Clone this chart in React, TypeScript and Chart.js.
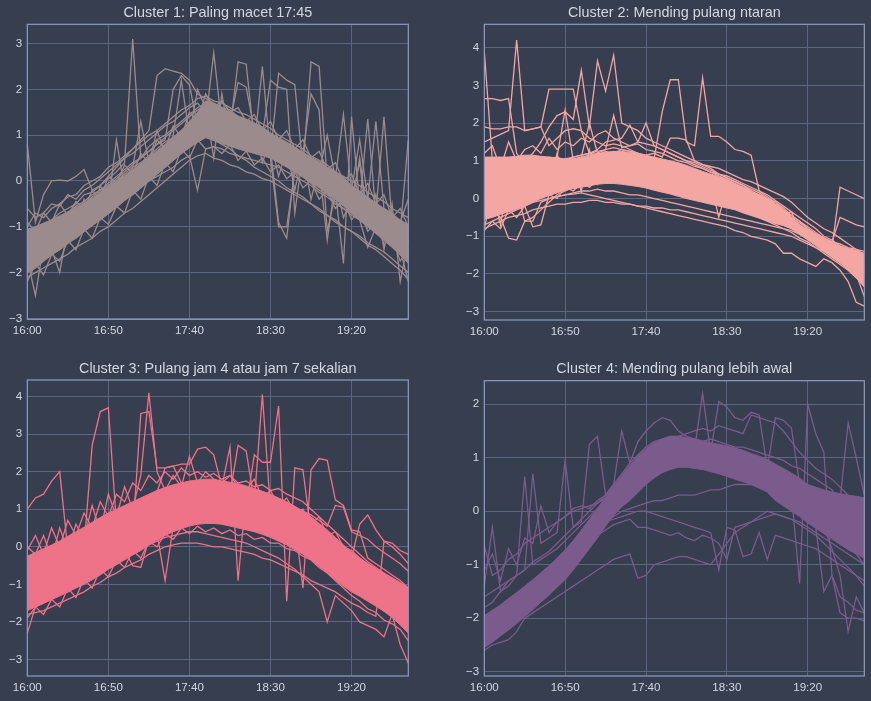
import React, { useEffect, useRef } from 'react';
import { Chart, registerables } from 'chart.js';

Chart.register(...registerables);

// x categories: every 5 minutes, 16:00 - 19:55
const times = [
  '16:00', '16:05', '16:10', '16:15', '16:20', '16:25', '16:30', '16:35', '16:40', '16:45', '16:50', '16:55',
  '17:00', '17:05', '17:10', '17:15', '17:20', '17:25', '17:30', '17:35', '17:40', '17:45', '17:50', '17:55',
  '18:00', '18:05', '18:10', '18:15', '18:20', '18:25', '18:30', '18:35', '18:40', '18:45', '18:50', '18:55',
  '19:00', '19:05', '19:10', '19:15', '19:20', '19:25', '19:30', '19:35', '19:40', '19:45', '19:50', '19:55',
];
const xTickLabels = ['16:00', '16:50', '17:40', '18:30', '19:20'];

// ---- Cluster 1 ----
const c1Ticks = [-3, -2, -1, 0, 1, 2, 3];
const c1High = [
  -1.05, -1.0, -0.92, -0.85, -0.76, -0.67, -0.58, -0.49, -0.38, -0.25, -0.12, 0.0,
  0.12, 0.25, 0.38, 0.52, 0.66, 0.8, 0.95, 1.1, 1.3, 1.5, 1.75, 1.7,
  1.6, 1.5, 1.42, 1.35, 1.27, 1.18, 1.05, 0.95, 0.85, 0.74, 0.63, 0.52,
  0.42, 0.3, 0.2, 0.08, -0.1, -0.22, -0.35, -0.48, -0.6, -0.72, -0.85, -0.95,
];
const c1Low = [
  -2.0, -1.88, -1.75, -1.62, -1.5, -1.37, -1.24, -1.11, -0.98, -0.85, -0.72, -0.58,
  -0.43, -0.3, -0.15, 0.0, 0.15, 0.3, 0.45, 0.6, 0.72, 0.85, 0.95, 0.88,
  0.82, 0.76, 0.7, 0.65, 0.6, 0.55, 0.5, 0.4, 0.3, 0.2, 0.08, -0.03,
  -0.15, -0.28, -0.4, -0.55, -0.7, -0.85, -1.0, -1.15, -1.3, -1.45, -1.62, -1.8,
];
const c1A = [
  -1.2, -1.0, -0.95, -0.85, -0.7, -0.6, -0.5, -0.3, -0.25, -0.1, 0.05, 0.2,
  0.4, 3.1, 0.5, 0.75, 0.9, 1.0, 1.15, 1.3, 1.45, 1.6, 1.7, 1.65,
  1.5, 1.4, 1.3, 1.25, 1.1, 1.0, 0.9, 0.8, 0.7, 0.55, 0.45, 0.3,
  0.2, 0.1, -0.05, -0.15, -0.3, -0.4, -0.5, -0.65, -0.75, -0.85, -1.0, -1.1,
];
const c1B = [
  0.8, -0.9, -0.3, 0.0, 0.02, 0.0, 0.1, 0.25, -0.2, -0.1, 0.1, 0.3,
  0.5, 0.7, 0.9, 1.1, 2.3, 2.45, 2.4, 2.35, 2.2, 1.9, 1.8, 1.7,
  1.6, 1.55, 1.4, 1.3, 1.2, 1.1, 1.0, 0.85, 0.7, 0.6, 0.5, 0.35,
  0.2, 0.1, 0.0, -0.1, -0.2, -0.3, -0.45, -0.55, -0.7, -0.8, -0.9, -1.05,
];
const c1C = [
  -2.1, -2.0, -1.9, -1.8, -1.7, -1.6, -1.45, -1.35, -1.25, -1.1, -1.0, -0.85,
  -0.7, -0.6, -0.45, -0.3, -0.15, 0.0, 0.15, 0.3, 0.45, 0.55, 0.6, 0.5,
  0.45, 0.35, 0.3, 0.2, 0.15, 0.05, 0.0, -0.1, -0.2, -0.3, -0.4, -0.5,
  -0.65, -0.75, -0.9, -1.0, -1.1, -1.2, -1.35, -1.45, -1.55, -1.7, -1.85, -2.0,
];
const c1D = [
  -1.6, -1.5, -1.3, -1.2, -1.1, -0.9, -0.8, -0.7, -0.55, -0.45, -0.3, -0.2,
  -0.05, 0.1, 0.25, 0.4, 0.5, 0.65, 0.8, 0.95, 1.05, 1.2, 1.3, 2.8,
  1.2, 1.1, 2.6, 2.55, 0.9, 0.8, 0.7, -0.9, -1.25, 0.3, 0.2, 0.1,
  -0.05, -0.15, -0.3, -0.4, -0.5, -0.6, -0.7, -0.85, -0.95, -1.05, -1.2, -1.3,
];
const c1E = [
  -1.8, -1.65, -1.5, -1.4, -1.25, -1.1, -1.0, -0.85, -0.7, -0.6, -0.45, -0.3,
  -0.2, -0.05, 0.1, 0.25, 0.4, 0.55, 0.7, 0.85, 1.0, 1.15, 1.35, 1.25,
  1.15, 1.05, 0.95, 0.85, 0.75, 2.5, 0.55, 2.35, 2.2, 2.1, 0.3, 2.6,
  2.5, 0.0, -0.1, -0.25, -0.35, -0.45, -0.6, -0.7, -0.8, -0.95, -1.05, -1.2,
];
const c1F = [
  -1.4, -1.3, -1.15, -1.0, -0.9, -0.75, -0.65, -0.5, -0.4, -0.25, -0.1, 0.0,
  0.15, 0.3, 0.4, 0.55, 0.7, 0.85, 0.95, 1.1, 1.25, 1.4, 1.5, 1.45,
  1.35, 1.25, 1.1, 1.0, 0.9, 0.8, 0.7, 0.6, 0.5, 0.35, 0.25, 0.15,
  0.0, -0.1, -0.2, -1.8, 1.4, -0.5, 1.35, -0.7, 1.4, -0.9, -1.1, 0.9,
];
const c1G = [
  -1.0, -0.7, -0.8, -0.6, -0.5, -0.35, -0.3, -0.1, 0.0, 0.1, 0.3, 0.4,
  0.55, 0.7, 0.85, 1.0, 1.1, 1.25, 1.4, 1.55, 1.65, 1.8, 1.85, 1.75,
  1.7, 1.6, 1.5, 1.45, 1.35, 1.25, 1.15, 1.0, 0.9, 0.8, 0.7, 0.55,
  0.45, 0.35, 0.2, 0.1, 0.0, -0.1, -0.25, -0.35, -0.45, -0.6, -0.7, -0.8,
];
const c1H = [
  -1.7, -2.5, -1.4, -1.5, -2.0, -1.0, -0.9, -0.4, -0.8, -0.1, -0.5, 0.9,
  -0.2, 0.3, 1.3, 0.4, 1.1, 0.6, 1.0, 2.2, 1.0, 2.0, 1.6, 0.5,
  1.9, 0.9, 1.3, 0.8, 1.2, 0.4, 0.9, 0.1, 0.7, -0.2, 0.6, -0.4,
  0.3, -1.3, 0.0, -0.8, -0.4, 0.4, -1.0, -0.3, -1.5, -0.5, -2.2, -1.3,
];
const c1I = [
  -2.0, -1.9, -1.75, -1.6, -1.5, -1.35, -1.25, -1.1, -0.95, -0.85, -0.7, -0.55,
  -0.4, -0.3, -0.15, 0.0, 0.15, 0.3, 0.45, 0.6, 0.75, 0.85, 0.95, 0.9,
  0.8, 0.7, 0.55, 0.45, 0.3, 0.2, 0.1, 0.0, -0.15, -0.25, -0.35, -0.5,
  -0.6, -0.75, -0.85, -1.0, -1.1, -1.25, -1.4, -1.5, -1.65, -1.8, -1.95, -2.15,
];
const c1J = [
  -0.6, -0.8, -0.7, -0.5, -0.55, -0.3, -0.4, -0.2, -0.1, 0.05, 0.2, 0.35,
  0.5, 0.6, 0.75, 0.9, 1.05, 1.2, 1.3, 1.45, 1.6, 1.7, 1.5, 1.4,
  1.25, 1.15, 1.05, 0.95, 0.85, 0.75, 0.65, 0.55, 0.45, 0.35, 0.2, 0.1,
  0.0, -0.15, -0.25, -0.35, -0.5, -0.6, -0.75, -0.85, -1.0, -1.1, -1.25, -1.4,
];
const c1K = [
  -1.3, -1.2, -1.1, -1.0, -0.85, -0.75, -0.6, -0.5, -0.35, -0.2, -0.1, 0.05,
  0.2, 0.35, 0.5, 0.65, 0.8, 0.9, 2.0, 2.3, 2.1, 1.2, 1.3, 1.45,
  1.35, 1.3, 2.15, 2.05, 1.1, 1.0, 2.2, 2.05, 2.0, -0.7, 0.6, 1.9,
  1.55, -1.1, -0.3, -0.4, -0.6, 0.5, -0.85, -1.0, -1.15, -1.3, -1.45, -1.6,
];
const c1L = [
  -0.9, -1.1, -0.7, -0.9, -0.5, -0.75, -0.45, -0.6, -0.2, -0.4, 0.1, -0.05,
  0.35, 0.15, 0.6, 0.4, 0.9, 0.7, 1.2, 0.95, 1.5, 1.3, 1.9, 1.6,
  1.75, 1.5, 1.6, 1.3, 1.45, 1.1, 1.3, 0.9, 1.1, 0.7, 0.9, 0.5,
  0.65, 0.25, 0.4, 0.0, 0.15, -0.3, -0.05, -0.5, -0.3, -0.8, -0.6, -1.0,
];
const c1M = [
  -2.2, -1.8, -2.05, -1.6, -1.75, -1.3, -1.5, -1.05, -1.25, -0.8, -0.95, -0.55,
  -0.7, -0.2, -0.4, 0.1, -0.1, 0.4, 0.2, 0.7, 0.5, 0.9, 0.7, 0.75,
  0.6, 0.8, 0.45, 0.65, 0.35, 0.5, 0.2, 0.35, 0.05, 0.2, -0.15, 0.0,
  -0.4, -0.2, -0.6, -0.4, -0.85, -0.65, -1.1, -0.9, -1.4, -1.2, -1.75, -1.5,
];
const c1N = [
  -1.5, -1.4, -1.3, -1.2, -1.1, -1.0, -0.9, -0.8, -0.7, -0.6, -0.5, -0.4,
  -0.3, -0.2, -0.1, 0.0, 0.1, 0.2, 0.3, 0.45, 0.55, -0.2, 0.7, 0.75,
  0.7, 0.6, 0.55, 0.5, 0.45, 0.4, 0.35, 0.3, 0.2, 0.1, 0.0, -0.1,
  -0.25, -0.35, -0.5, -0.6, -0.75, -0.85, -1.0, -1.1, -1.25, -1.4, -1.55, -1.7,
];
const c1O = [
  -1.9, -1.7, -1.6, -1.5, -1.35, -1.2, -1.1, -0.95, -0.85, -0.7, -0.55, -0.45,
  -0.3, -0.15, 0.0, 0.1, 0.25, 0.4, 0.55, 0.7, 0.8, 0.95, 1.1, 1.2,
  1.1, 1.0, 0.9, 0.8, 0.7, 0.6, 0.5, -1.0, -1.0, 0.2, 0.1, -0.05,
  -0.2, -0.3, -0.45, -0.6, -0.7, -0.85, -1.45, -1.0, -1.15, -1.3, -1.5, -2.2,
];
const c1P = [
  -1.3, -1.15, -1.0, -0.95, -0.8, -0.7, -0.55, -0.45, -0.3, -0.2, -0.05, 0.1,
  0.25, 0.4, 0.5, 0.65, 0.8, 0.95, 1.1, 1.25, 1.4, 1.55, 1.65, 1.55,
  1.45, 1.35, 1.25, 1.15, 1.05, 0.95, 0.85, 0.75, 0.65, 0.55, 0.45, 0.35,
  0.2, 1.0, 0.05, 1.45, -0.2, 0.9, -0.4, 1.3, -0.6, -0.7, -0.9, -0.4,
];

// ---- Cluster 2 ----
const c2Ticks = [-3, -2, -1, 0, 1, 2, 3, 4];
const c2High = [
  1.1, 1.1, 1.1, 1.1, 1.12, 1.15, 1.15, 1.12, 1.1, 1.08, 1.05, 1.05,
  1.08, 1.12, 1.18, 1.22, 1.25, 1.25, 1.22, 1.2, 1.15, 1.1, 1.05, 1.0,
  0.95, 0.88, 0.8, 0.72, 0.65, 0.58, 0.5, 0.4, 0.3, 0.2, 0.1, 0.0,
  -0.15, -0.3, -0.5, -0.7, -0.85, -0.95, -1.05, -1.15, -1.25, -1.32, -1.38, -1.45,
];
const c2Low = [
  -0.55, -0.5, -0.42, -0.35, -0.28, -0.2, -0.1, 0.0, 0.08, 0.15, 0.22, 0.26,
  0.3, 0.34, 0.38, 0.4, 0.4, 0.38, 0.35, 0.32, 0.28, 0.22, 0.17, 0.12,
  0.06, 0.0, -0.05, -0.1, -0.15, -0.2, -0.25, -0.3, -0.38, -0.45, -0.52, -0.6,
  -0.66, -0.72, -0.8, -0.95, -1.1, -1.25, -1.4, -1.55, -1.7, -1.9, -2.1, -2.35,
];
const c2A = [
  3.9, 1.0, 0.9, 0.95, 1.0, 1.1, 1.05, 1.0, 1.1, 1.05, 1.0, 1.05,
  1.1, 1.15, 1.2, 1.2, 1.25, 1.2, 1.1, 1.05, 1.0, 0.9, 0.85, 0.75,
  0.7, 0.6, 0.55, 0.45, 0.4, 0.3, 0.2, 0.1, 0.05, -0.05, -0.15, -0.25,
  -0.4, -0.5, -0.65, -0.8, -0.9, -1.0, -1.1, -1.25, -1.35, -1.5, -1.6, -1.7,
];
const c2B = [
  2.65, 2.65, 2.6, 2.65, 1.2, 0.9, 0.8, 0.85, 0.9, 0.95, 0.9, 0.85,
  0.95, 1.0, 1.05, 1.1, 1.1, 1.0, 0.95, 0.9, 0.85, 0.8, 0.7, 0.65,
  0.6, 0.5, 0.45, 0.35, 0.3, 0.25, 0.15, 0.05, 0.0, -0.1, -0.2, -0.3,
  -0.45, -0.6, -0.7, -0.85, -1.0, -1.1, -1.2, -1.35, -1.45, -1.6, -1.8, -2.0,
];
const c2C = [
  0.0, -0.3, -0.5, -1.05, -1.1, -0.6, -0.5, -0.3, -0.1, 0.1, 0.2, 0.3,
  0.35, 0.4, 0.45, 0.5, 0.5, 0.45, 0.4, 0.35, 0.3, 0.25, 0.2, 0.15,
  0.1, 0.05, 0.0, -0.05, -0.1, -0.15, -0.2, -0.25, -0.3, -0.4, -0.5, -0.6,
  -0.7, -0.8, -0.9, -1.05, -1.15, -1.3, -1.4, -1.55, -1.7, -1.85, -2.0, -2.2,
];
const c2D = [
  1.5, 1.6, 1.7, 1.8, 4.2, 1.8, 1.85, 1.9, 2.9, 2.9, 2.9, 2.9,
  1.8, 1.6, 1.5, 1.4, 1.45, 1.4, 1.3, 1.2, 1.1, 1.0, 0.9, 0.8,
  0.7, 0.6, 0.5, 0.45, 0.35, 0.3, 0.2, 0.1, 0.0, -0.1, -0.2, -0.3,
  -0.45, -0.55, -0.7, -0.85, -1.0, -1.1, -1.25, -1.35, -1.5, -1.65, -1.8, -1.95,
];
const c2E = [
  0.5, 0.6, 0.7, 0.8, 0.9, 1.0, 1.2, 1.5, 1.9, 2.2, 2.3, 2.1,
  3.4, 1.9, 3.65, 2.85, 3.8, 2.0, 1.9, 1.8, 1.6, 1.5, 1.4, 1.3,
  1.2, 1.1, 1.0, 0.9, 0.8, 0.65, 0.55, 0.45, 0.35, 0.2, 0.1, 0.0,
  -0.15, -0.3, -0.45, -0.6, -0.75, -0.9, -1.05, -1.2, -1.35, -1.5, -1.65, -1.8,
];
const c2F = [
  0.2, 0.4, 0.5, 0.6, 0.7, 0.75, 0.8, 0.85, 0.9, 1.0, 1.05, 1.1,
  1.15, 1.2, 1.25, 1.3, 1.35, 1.3, 1.25, 1.2, 1.1, 1.05, 2.3, 3.15,
  3.15, 1.5, 1.4, 3.2, 1.65, 1.65, 1.5, 1.3, 1.25, 1.15, 0.2, 0.05,
  -0.1, -0.3, -0.5, -0.7, -0.85, -1.0, -1.15, -1.3, -1.4, -1.55, -1.7, -1.85,
];
const c2G = [
  -0.7, -0.6, -0.5, -0.4, -0.3, -0.2, -0.1, -0.05, 0.0, 0.05, 0.1, 0.12,
  0.15, 0.1, 0.05, 0.0, -0.05, -0.1, -0.15, -0.2, -0.25, -0.3, -0.35, -0.4,
  -0.45, -0.5, -0.55, -0.6, -0.65, -0.7, -0.75, -0.85, -0.9, -1.0, -1.05, -1.1,
  -1.2, -1.45, -1.45, -1.6, -1.7, -1.8, -1.6, -1.7, -1.9, -2.2, -2.75, -2.85,
];
const c2H = [
  0.9, 0.7, 0.8, 0.9, 0.85, 0.9, 0.95, 1.0, 0.95, 1.0, 0.9, 0.95,
  1.0, 1.05, 1.0, 1.05, 1.1, 1.05, 1.0, 0.95, 0.9, 0.85, 0.8, 0.7,
  0.65, 0.55, 0.5, 0.4, 0.3, 0.2, 0.15, 0.05, -0.05, -0.15, -0.25, -0.35,
  -0.5, -0.4, -0.35, -0.9, -1.0, -1.1, -1.2, -1.3, 0.3, 0.2, 0.1, 0.0,
];
const c2I = [
  -0.8, 0.2, -0.7, 0.5, -0.2, 0.6, 0.1, 0.9, 0.3, 1.2, 0.4, 0.8,
  0.2, 1.3, 0.4, 1.1, 0.5, 1.2, 0.9, 0.6, 1.0, 0.5, 0.9, 0.6,
  0.8, 0.5, 0.6, 0.4, 0.45, -0.5, 0.3, 0.2, 0.1, -0.05, -0.1, -0.2,
  -0.3, -0.45, -0.6, -0.7, -0.85, -0.95, -1.05, -1.15, -0.5, -0.6, -0.7, -0.75,
];
const c2J = [
  1.9, 1.85, 1.85, 1.9, 1.9, 1.8, 1.85, 1.9, 1.4, 1.6, 1.8, 1.85,
  1.8, 1.2, 1.3, 1.5, 1.55, 1.6, 1.95, 1.5, 1.45, 1.4, 1.3, 1.2,
  1.1, 1.0, 0.9, 0.8, 0.7, 0.6, 0.5, 0.4, 0.3, 0.2, 0.05, -0.05,
  -0.2, -0.35, -0.5, -0.65, -0.8, -0.95, -1.1, -1.25, -1.4, -1.55, -1.7, -1.9,
];
const c2K = [
  -0.8, -0.7, -0.6, -0.5, -0.45, -0.4, -0.3, -0.25, -0.2, -0.15, -0.15, -0.1,
  -0.1, -0.05, -0.05, -0.1, -0.1, -0.15, -0.15, -0.2, -0.2, -0.25, -0.25, -0.3,
  -0.3, -0.35, -0.4, -0.45, -0.5, -0.55, -0.6, -0.65, -0.7, -0.75, -0.8, -0.85,
  -0.9, -0.95, -1.0, -1.1, -1.2, -1.3, -1.45, -1.6, -1.75, -1.9, -2.1, -2.3,
];
const c2L = [
  1.2, 1.4, 0.8, 1.5, 1.0, 1.3, 1.4, 1.2, 1.6, 1.3, 1.5, 1.4,
  1.6, 1.5, 1.7, 1.8, 1.6, 1.5, 1.4, 1.45, 1.3, 1.25, 1.2, 1.1,
  1.0, 0.95, 0.85, 0.8, 0.7, 0.65, 0.55, 0.45, 0.35, 0.25, 0.15, 0.0,
  -0.1, -0.25, -0.45, -0.6, -0.8, -0.95, -1.05, -1.15, -1.2, -1.3, -1.35, -1.4,
];
const c2M = [
  -0.85, -0.6, -0.8, -0.3, -0.5, -0.2, -0.75, -0.7, 0.1, 0.0, 0.3, 0.2,
  0.4, 0.3, 0.5, 0.6, 0.55, 0.5, 0.45, 0.4, 0.35, 0.3, 0.25, 0.2,
  0.15, 0.1, 0.05, 0.0, -0.05, -0.1, -0.15, -0.25, -0.3, -0.4, -0.5, -0.55,
  -0.65, -0.7, -0.8, -0.9, -1.05, -1.2, -1.35, -1.5, -1.65, -1.8, -2.0, -2.6,
];
const c2N = [
  0.3, 0.5, 0.7, 0.6, 0.8, 0.9, 0.85, 1.0, 0.9, 1.1, 2.35, 1.0,
  1.1, 2.0, 1.2, 1.3, 2.2, 1.35, 1.4, 1.5, 2.0, 1.4, 1.3, 1.2,
  1.1, 1.0, 0.95, 0.85, 0.75, 0.65, 0.6, 0.5, 0.4, 0.3, 0.2, 0.1,
  -0.05, -0.2, -0.35, -0.5, -0.65, -0.8, -1.0, -1.1, -1.25, -1.4, -1.6, -1.75,
];
const c2O = [
  -0.4, -0.2, 0.0, 0.1, 0.2, -0.6, -0.6, -0.1, 0.0, 0.05, 0.1, 0.15,
  0.2, 0.2, 0.25, 0.2, 0.2, 0.15, 0.1, 0.1, 0.05, 0.0, -0.05, -0.1,
  -0.15, -0.2, -0.25, -0.3, -0.35, -0.4, -0.45, -0.5, -0.55, -0.6, -0.65, -0.7,
  -0.75, -0.8, -0.85, -0.95, -1.05, -1.15, -1.3, -1.4, -1.55, -1.75, -2.0, -2.3,
];
const c2P = [
  0.6, 0.75, 0.65, 0.8, 0.9, 0.85, 1.0, 0.95, 1.05, 1.1, 1.0, 1.1,
  1.15, 1.2, 1.15, 1.25, 1.2, 1.3, 1.25, 1.2, 1.15, 1.2, 1.1, 1.6,
  1.6, 1.55, 1.0, 0.9, 0.85, 0.8, 0.7, 0.6, 0.5, 0.45, 0.35, 0.25,
  0.15, 0.05, -0.1, -0.3, -0.5, -0.65, -0.8, -0.9, -1.05, -1.2, -1.35, -1.5,
];

// ---- Cluster 3 ----
const c3Ticks = [-3, -2, -1, 0, 1, 2, 3, 4];
const c3High = [
  -0.25, -0.15, -0.05, 0.05, 0.15, 0.28, 0.4, 0.52, 0.65, 0.78, 0.9, 1.0,
  1.1, 1.2, 1.3, 1.4, 1.5, 1.58, 1.65, 1.7, 1.75, 1.78, 1.8, 1.8,
  1.75, 1.72, 1.68, 1.62, 1.55, 1.48, 1.4, 1.3, 1.2, 1.08, 0.95, 0.8,
  0.62, 0.45, 0.25, 0.05, -0.15, -0.3, -0.45, -0.58, -0.7, -0.82, -0.95, -1.1,
];
const c3Low = [
  -1.7, -1.6, -1.5, -1.4, -1.3, -1.2, -1.1, -1.0, -0.88, -0.75, -0.6, -0.48,
  -0.35, -0.22, -0.1, 0.05, 0.18, 0.3, 0.4, 0.48, 0.55, 0.6, 0.62, 0.62,
  0.6, 0.55, 0.5, 0.45, 0.4, 0.33, 0.25, 0.15, 0.05, -0.08, -0.2, -0.35,
  -0.52, -0.7, -0.88, -1.05, -1.2, -1.32, -1.45, -1.58, -1.72, -1.88, -2.08, -2.3,
];
const c3A = [
  1.0, 1.3, 1.4, 1.75, 2.0, -0.1, 0.0, 0.1, 0.2, 0.3, 0.4, 0.5,
  0.6, 0.7, 0.8, 0.9, 1.0, 1.1, 1.2, 1.25, 1.3, 1.35, 1.4, 1.45,
  1.4, 1.35, 1.3, 1.25, 1.2, 1.1, 1.0, 0.9, 0.8, 0.7, 0.6, 0.45,
  0.3, 0.15, 0.0, -0.15, -0.3, -0.45, -0.6, -0.75, -0.9, -1.05, -1.2, -1.35,
];
const c3B = [
  -0.8, -0.7, -0.55, -0.45, -0.35, -0.25, -0.1, 0.0, 2.7, 3.6, 3.7, 0.6,
  0.7, 0.8, 0.9, 1.0, 1.1, 1.15, 1.2, 1.3, 1.35, 1.4, 1.45, 1.45,
  1.4, 1.35, 1.3, 1.25, 1.2, 1.1, 1.0, 0.9, 0.8, 0.65, 0.5, 0.35,
  0.2, 0.05, -0.1, -0.25, -0.4, -0.55, -0.7, -0.85, -1.0, -1.15, -1.3, -1.45,
];
const c3C = [
  -1.2, -1.1, -1.0, -0.9, -0.8, -0.7, -0.55, -0.4, -0.3, -0.2, -0.05, 0.1,
  0.2, 0.35, 3.55, 3.6, 2.1, 2.1, 2.15, 1.7, 1.6, 1.55, 1.5, 1.45,
  1.4, 1.35, 1.3, 1.2, 1.1, 1.0, 0.9, 0.75, 0.6, 0.45, 0.3, 0.15,
  0.0, -0.15, -0.3, -0.45, -0.6, -0.75, -0.9, -1.05, -1.2, -1.35, -1.5, -1.65,
];
const c3D = [
  -1.5, -1.4, -1.3, -1.2, -1.05, -0.95, -0.85, -0.7, -0.6, -0.45, -0.35, -0.2,
  -0.1, -0.5, -0.55, 0.2, 0.35, -0.9, 0.55, 0.65, 0.75, 0.8, 0.85, 0.85,
  0.8, 0.75, 0.7, 0.65, 0.55, 0.45, 0.35, 0.25, 0.15, 0.05, -0.1, -0.25,
  -0.4, -0.55, -0.7, -0.85, -1.0, -1.15, -1.3, -1.45, -1.6, -1.75, -1.9, -2.05,
];
const c3E = [
  -0.6, -0.5, -0.4, -0.3, -0.2, -0.1, 0.0, 0.1, 0.25, 0.4, 0.55, 0.7,
  0.85, 1.0, 1.15, 1.3, 1.45, 2.1, 2.15, 2.2, 2.2, 2.6, 2.65, 2.45,
  1.6, 2.65, -0.9, 1.4, 1.35, 1.3, 1.2, 1.1, 1.0, 0.9, 0.75, 0.6,
  0.45, 0.3, 0.15, 0.0, -0.15, -0.3, -0.45, -0.6, -0.75, -0.9, -1.05, -1.2,
];
const c3F = [
  -1.0, -0.9, -0.8, -0.7, -0.6, -0.5, -0.4, -0.3, -0.2, -0.05, 0.1, 0.25,
  0.4, 0.55, 0.7, 0.85, 1.0, 1.1, 1.2, 1.3, 1.35, 1.4, 1.45, 1.5,
  1.45, 1.4, 2.7, 2.55, 1.2, 4.05, 1.0, 0.9, 0.8, 0.65, 0.5, 0.35,
  0.2, 0.05, -0.1, -0.25, -0.4, -0.55, -0.7, -0.85, -1.0, -1.15, -1.3, -1.45,
];
const c3G = [
  -1.3, -1.2, -1.1, -1.0, -0.9, -0.75, -0.65, -0.5, -0.4, -0.25, -0.1, 0.05,
  0.2, 0.35, 0.5, 0.65, 0.8, 0.9, 1.0, 1.1, 1.15, 1.2, 1.25, 1.25,
  1.2, 1.15, 1.1, 1.05, 2.45, 2.25, 2.25, 3.75, -1.45, 2.1, 2.05, 0.4,
  0.25, 0.1, -0.05, -0.2, -0.35, -0.5, -0.65, -0.8, -0.95, -1.1, -1.25, -1.4,
];
const c3H = [
  -0.4, -0.3, -0.2, -0.1, 0.0, 0.1, 0.2, 0.3, 0.4, 0.5, 0.6, 0.7,
  0.8, 0.9, 1.0, 1.1, 1.2, 1.3, 1.4, 1.5, 1.55, 1.6, 1.6, 1.55,
  1.5, 1.45, 1.4, 1.3, 1.25, 1.15, 1.05, 0.95, 0.85, 0.7, -1.1, 2.05,
  2.35, 2.3, 1.25, 1.1, 0.45, 0.4, -0.3, -0.45, -0.6, -0.75, -0.9, -1.1,
];
const c3I = [
  -0.9, -0.8, -0.7, -0.6, -0.5, -0.4, -0.25, -0.15, 0.0, 0.1, 0.25, 0.4,
  0.5, 0.6, 0.75, 0.85, 0.95, 1.05, 1.15, 1.2, 1.25, 1.3, 1.35, 1.35,
  1.3, 1.25, 1.2, 1.15, 1.05, 1.0, 0.9, 0.8, 0.7, 0.6, 0.45, 0.35,
  0.2, 0.1, -0.05, -0.2, -0.3, 0.6, 0.85, 0.45, 0.15, 0.1, -0.1, -0.2,
];
const c3J = [
  -2.3, -1.6, -1.5, -1.4, -1.3, -1.2, -1.05, -0.95, -0.8, -0.7, -0.55, -0.45,
  -0.3, -0.2, -0.05, 0.05, 0.15, 0.25, 0.3, 0.35, 0.4, 0.4, 0.35, 0.3,
  0.25, 0.2, 0.15, 0.1, 0.0, -0.1, -0.2, -0.3, -0.45, -0.6, -0.8, -1.0,
  -1.2, -2.0, -1.3, -1.5, -1.7, -2.0, -2.1, -2.2, -2.4, -1.8, -2.6, -3.1,
];
const c3K = [
  -1.8, -1.75, -1.7, -1.6, -1.5, -1.4, -1.3, -1.2, -1.05, -0.95, -0.8, -0.7,
  -0.55, -0.45, -0.35, -0.2, -0.1, 0.0, 0.05, 0.1, 0.1, 0.1, 0.05, 0.0,
  0.0, -0.05, -0.1, -0.15, -0.2, -0.3, -0.35, -0.45, -0.55, -0.65, -0.75, -0.9,
  -1.0, -1.1, -1.2, -1.35, -1.5, -1.6, -1.75, -1.85, 0.15, 0.0, -0.2, -0.45,
];
const c3L = [
  0.0, -0.2, 0.3, -0.3, 0.5, -0.1, 0.6, 0.2, 1.1, 0.4, 1.4, 0.8,
  1.6, 1.0, 1.9, 4.1, 2.0, 1.5, 1.9, 1.6, 2.4, 1.7, 2.0, 1.8,
  1.7, 1.9, 1.6, 1.5, 1.8, 1.3, 1.5, 1.1, 1.3, 0.9, 1.0, 0.6,
  0.8, 0.3, 0.4, 0.0, -0.1, -0.3, -0.5, -0.7, -0.8, -1.0, -1.2, -1.3,
];
const c3M = [
  -0.1, 0.3, -0.2, 0.5, 0.0, 0.7, 0.3, 0.9, 0.5, 1.2, 0.8, 1.4,
  1.2, 1.7, 1.5, 1.9, 1.7, 2.0, 1.8, 2.1, 1.9, 2.0, 1.85, 1.95,
  1.8, 1.9, 1.7, 1.75, 1.6, 1.65, 1.5, 1.55, 1.4, 1.3, 1.2, 1.0,
  0.8, 0.6, 0.4, 0.2, 0.0, -0.2, -0.4, -0.55, -0.7, -0.85, -1.0, -1.1,
];
const c3N = [
  -1.9, -1.6, -1.8, -1.4, -1.6, -1.1, -1.35, -0.85, -1.1, -0.6, -0.8, -0.35,
  -0.55, -0.1, -0.3, 0.15, 0.0, 0.35, 0.2, 0.5, 0.35, 0.55, 0.4, 0.5,
  0.35, 0.45, 0.3, 0.35, 0.2, 0.25, 0.1, 0.1, -0.05, -0.1, -0.25, -0.35,
  -0.55, -0.7, -0.9, -1.1, -1.3, -1.45, -1.65, -1.75, -1.95, -2.05, -2.2, -2.5,
];
const c3O = [
  -1.1, -1.3, -0.9, -1.15, -0.7, -0.95, -0.5, -0.75, -0.3, -0.5, -0.1, -0.3,
  0.1, -0.1, 0.3, 0.1, 0.5, 0.3, 0.7, 0.5, 0.85, 0.7, 0.95, 0.9,
  1.0, 0.9, 0.95, 0.8, 0.85, 0.65, 0.7, 0.5, 0.55, 0.3, 0.35, 0.1,
  0.1, -0.2, -0.2, -0.55, -0.55, -0.9, -0.9, -1.25, -1.25, -1.6, -1.6, -1.95,
];
const c3P = [
  -0.7, -0.6, -0.45, -0.35, -0.2, -0.1, 0.05, 0.15, 0.3, 0.45, 0.6, 0.75,
  0.9, 1.0, 1.1, 1.2, 1.3, 1.4, 1.5, 1.6, 1.65, 1.7, 1.75, 1.75,
  1.7, 1.65, 1.6, 1.55, 1.5, 1.4, 1.3, 1.2, 1.15, 1.05, 0.95, 0.85,
  0.7, 0.55, 1.1, 1.05, 0.4, 0.3, 0.2, 0.0, -0.15, -0.3, -0.45, -0.65,
];

// ---- Cluster 4 ----
const c4Ticks = [-3, -2, -1, 0, 1, 2];
const c4High = [
  -1.95, -1.85, -1.75, -1.63, -1.52, -1.4, -1.28, -1.15, -1.02, -0.88, -0.72, -0.55,
  -0.35, -0.15, 0.05, 0.27, 0.47, 0.67, 0.86, 1.03, 1.17, 1.28, 1.35, 1.4,
  1.4, 1.38, 1.35, 1.32, 1.28, 1.25, 1.22, 1.18, 1.14, 1.08, 1.03, 0.97,
  0.88, 0.8, 0.71, 0.62, 0.5, 0.45, 0.4, 0.36, 0.33, 0.3, 0.28, 0.25,
];
const c4Low = [
  -2.55, -2.45, -2.33, -2.22, -2.1, -1.97, -1.84, -1.7, -1.57, -1.42, -1.28, -1.1,
  -0.9, -0.7, -0.5, -0.28, -0.08, 0.08, 0.2, 0.35, 0.5, 0.62, 0.72, 0.78,
  0.82, 0.82, 0.8, 0.78, 0.74, 0.7, 0.65, 0.6, 0.55, 0.5, 0.43, 0.36,
  0.2, 0.1, 0.0, -0.1, -0.22, -0.32, -0.42, -0.52, -0.62, -0.72, -0.8, -0.88,
];
const c4A = [
  -0.65, -1.2, -1.1, -0.9, -0.8, -0.6, -0.5, -0.4, -0.3, -0.2, -0.1, 0.0,
  0.05, 0.1, 0.15, 0.25, 0.35, 0.5, 0.65, 0.8, 0.95, 1.05, 1.15, 1.2,
  1.25, 1.2, 1.15, 1.1, 1.05, 1.0, 0.95, 0.9, 0.85, 0.8, 0.75, 0.7,
  0.6, 0.5, 0.4, 0.3, 0.2, 0.1, 0.0, -0.1, -0.2, -0.3, -0.45, -0.6,
];
const c4B = [
  -1.4, -0.3, -1.5, -1.3, -1.2, 0.65, -1.0, -0.9, -0.8, -0.7, -0.55, -0.4,
  -0.25, -0.1, 0.05, 0.2, 0.4, 0.6, 0.8, 0.95, 1.1, 1.2, 1.3, 1.3,
  1.25, 1.2, 1.2, 1.15, 1.1, 1.05, 1.0, 0.95, 0.9, 0.85, 0.8, 0.7,
  0.6, 0.55, 0.45, 0.35, 0.25, 0.15, 0.05, -0.05, -0.15, -0.3, -0.4, -0.5,
];
const c4C = [
  -1.8, -1.7, -1.5, -1.4, -1.2, -1.1, 0.7, -0.6, -0.5, -0.4, 0.95, -0.3,
  -0.2, 1.25, 1.4, 0.3, 0.5, 1.5, 0.9, 1.3, 1.5, 1.65, 1.75, 1.7,
  1.5, 1.4, 1.35, 1.3, 1.25, 1.2, 1.15, 1.1, 1.05, 1.0, 0.95, 0.85,
  0.8, 0.7, 0.6, 0.5, 0.4, 0.3, 0.2, 0.1, 0.0, -0.1, -0.2, -0.3,
];
const c4D = [
  -2.6, -2.5, -2.45, -2.4, -2.25, -2.0, -1.9, -1.8, -1.7, -1.6, -1.5, -1.4,
  -1.3, -1.2, -1.1, -1.0, -0.9, -0.85, -0.8, -1.25, -1.2, -1.0, -0.95, -0.9,
  -0.85, -0.85, -0.9, -0.95, -1.0, -0.8, -0.6, -0.4, -0.3, -0.2, -0.1, 0.0,
  -0.05, -0.1, -0.15, -0.2, -0.3, -0.4, -0.5, -0.6, -0.7, -0.8, -0.9, -1.0,
];
const c4E = [
  -2.3, -2.2, -2.1, -2.0, -1.85, -1.7, -1.6, -1.45, -1.3, -1.15, -1.0, -0.85,
  -0.65, -0.45, -0.25, -0.05, 0.15, 0.35, 0.55, 0.7, 0.85, 1.0, 1.1, 1.15,
  1.2, 1.2, 1.15, 2.2, 1.1, 2.05, 1.95, 1.75, 1.7, 1.85, 1.8, 0.8,
  1.75, 1.7, 1.55, 0.5, 0.4, 0.3, 0.2, 0.1, 0.0, -0.1, -0.25, -0.4,
];
const c4F = [
  -2.0, -1.95, -1.85, -1.7, -1.6, -1.5, -1.35, -1.25, -1.1, -0.95, -0.8, -0.65,
  -0.5, -0.4, -0.3, -0.2, -0.15, -0.1, -0.05, 0.0, 0.0, -0.05, -0.1, -0.15,
  -0.2, -0.25, -0.3, -0.35, -0.4, -1.1, -0.3, -0.35, -0.85, -0.8, -0.4, -0.9,
  -0.45, -0.5, -0.55, -0.6, -0.65, -0.7, -0.8, -0.9, -1.0, -1.1, -1.2, -1.3,
];
const c4G = [
  -2.2, -2.1, -2.0, -1.9, -1.75, -1.6, -1.5, -1.35, -1.2, -1.05, -0.9, -0.75,
  -0.55, -0.35, -0.15, 0.05, 0.25, 0.45, 0.6, 0.75, 0.9, 1.0, 1.05, 1.1,
  1.1, 1.05, 1.0, 1.0, 0.95, 0.9, 0.85, 0.8, 0.75, 0.7, 0.65, 0.55,
  0.5, 0.4, 0.3, -1.35, 2.0, 1.45, 1.1, -1.2, -1.9, -2.0, -2.0, -2.05,
];
const c4H = [
  -2.4, -2.3, -2.2, -2.1, -1.95, -1.85, -1.7, -1.55, -1.45, -1.3, -1.15, -0.95,
  -0.75, -0.5, -0.3, -0.1, 0.1, 0.3, 0.5, 0.7, 0.85, 0.95, 1.05, 1.1,
  1.15, 1.15, 1.1, 1.05, 1.05, 1.0, 0.95, 0.9, 0.85, 0.8, 0.7, 0.65,
  0.55, 0.45, 0.35, 0.25, 0.15, 0.0, -0.3, -0.7, -1.2, -2.25, -1.6, -1.9,
];
const c4I = [
  -1.6, -1.5, -1.4, -1.3, -1.2, -1.1, -0.95, -0.85, -0.75, -0.6, -0.45, -0.3,
  -0.15, 0.0, 0.15, 0.3, 0.5, 0.7, 0.9, 1.05, 1.2, 1.3, 1.35, 1.4,
  1.4, 1.35, 1.35, 1.3, 1.35, 1.3, 1.25, 1.2, 1.2, 1.15, 1.1, 1.05,
  1.0, 0.95, 0.85, 0.8, 0.7, 0.6, 0.5, 0.4, 0.2, 1.65, 1.0, 0.3,
];
const c4J = [
  -2.1, -2.0, -1.9, -1.8, -1.7, -1.55, -1.45, -1.3, -1.15, -1.0, -0.85, -0.7,
  -0.55, -0.45, -0.3, -0.2, -0.1, 0.0, 0.05, 0.1, 0.15, 0.2, 0.2, 0.25,
  0.3, 0.3, 0.3, 0.35, 0.4, 0.4, 0.45, 0.5, 0.5, 0.5, 0.45, 0.4,
  0.35, 0.3, 0.2, 0.1, 0.0, -0.1, -0.2, -0.35, -0.5, -0.65, -0.8, -1.0,
];
const c4K = [
  -1.1, -0.8, -1.3, -0.7, -1.0, -0.5, -0.6, 0.1, -0.4, -0.2, -0.1, 0.05,
  0.1, 0.05, 0.2, 0.3, 0.45, 0.55, 0.7, 0.85, 1.0, 1.1, 1.2, 1.25,
  1.3, 1.25, 1.2, 1.2, 1.15, 1.1, 1.1, 1.05, 1.0, 0.95, 0.9, 0.85,
  0.8, 0.7, 0.65, 0.55, 0.45, 0.35, 0.25, 0.15, 0.0, -0.15, -0.3, -0.5,
];
const c4L = [
  -2.3, -2.2, -2.1, -1.95, -1.8, -1.65, -1.5, -1.4, -1.25, -1.1, -0.95, -0.8,
  -0.65, -0.55, -0.45, -0.35, -0.25, -0.2, -0.15, -0.3, -0.3, -0.35, -0.4, -0.45,
  -0.4, -0.5, -0.55, -0.45, -0.5, -0.6, -0.9, -0.3, -0.25, -0.2, -0.15, -0.1,
  -0.05, -0.1, -0.15, -0.25, -0.35, -0.45, -0.6, -0.75, -0.9, -1.05, -1.2, -1.4,
];
const c4M = [
  -2.0, -1.9, -1.8, -1.7, -1.55, -1.45, -1.3, -1.2, -1.05, -0.9, -0.75, -0.6,
  -0.4, -0.2, 0.0, 0.2, 0.4, 0.6, 0.8, 0.95, 1.1, 1.2, 1.3, 1.35,
  1.4, 1.45, 1.5, 1.55, 1.5, 1.6, 1.55, 1.5, 1.45, 1.8, 1.75, 1.7,
  1.65, 1.5, 1.3, 1.1, 0.95, 0.8, 0.7, 0.6, 0.45, 0.3, 0.2, 0.05,
];
const c4N = [
  -2.45, -2.35, -2.25, -2.15, -2.0, -1.9, -1.75, -1.6, -1.5, -1.35, -1.2, -1.05,
  -0.85, -0.65, -0.45, -0.25, -0.05, 0.15, 0.35, 0.55, 0.7, 0.85, 0.95, 1.05,
  1.1, 1.1, 1.05, 1.05, 1.0, 0.95, 0.9, 0.85, 0.8, 0.75, 0.65, 0.55,
  0.45, 0.35, 0.25, 0.1, -0.1, -0.3, -1.5, -1.2, -1.6, -1.7, -1.85, -1.9,
];

const BG = '#363e50';
const GRID = '#5b6780';
const FRAME = '#8c9dc2';
const TEXT = '#d3d7e0';
const FONT = "'Liberation Sans', Arial, Helvetica, sans-serif";

interface PanelProps {
  title: string;
  color: string;
  high: number[];
  low: number[];
  lines: number[][];
  yMin: number;
  yMax: number;
  yTicks: number[];
  left: number;
  top: number;
  width: number;
  height: number;
  plot: { l: number; r: number; t: number; b: number };
}

// matplotlib-like spines on all four sides
const framePlugin = {
  id: 'frame',
  afterDatasetsDraw(chart: any) {
    const { ctx, chartArea: a } = chart;
    ctx.save();
    ctx.strokeStyle = FRAME;
    ctx.lineWidth = 1.2;
    ctx.strokeRect(a.left, a.top, a.right - a.left, a.bottom - a.top);
    ctx.restore();
  },
};

const Panel: React.FC<PanelProps> = (p) => {
  const canvasRef = useRef<HTMLCanvasElement | null>(null);

  useEffect(() => {
    if (!canvasRef.current) return;
    const ctx = canvasRef.current.getContext('2d');
    if (!ctx) return;

    // dense core of the cluster is a filled band, the rest are single lines
    const datasets: any[] = [
      { data: p.low, borderColor: p.color, borderWidth: 1, pointRadius: 0, fill: false },
      { data: p.high, borderColor: p.color, backgroundColor: p.color, borderWidth: 1, pointRadius: 0, fill: '-1' },
      ...p.lines.map((l) => ({ data: l, borderColor: p.color, borderWidth: 1.3, pointRadius: 0, fill: false })),
    ];

    const chart = new Chart(ctx, {
      type: 'line',
      data: { labels: times, datasets },
      options: {
        responsive: false,
        animation: false,
        layout: { padding: { left: 0, right: p.width - p.plot.r, top: 0, bottom: 0 } },
        plugins: {
          legend: { display: false },
          tooltip: { enabled: false },
          title: {
            display: true,
            text: p.title,
            color: TEXT,
            fullSize: false,
            font: { family: FONT, size: 14.4, weight: 'normal', lineHeight: 1.2 },
            padding: { top: p.plot.t - 19.9, bottom: 2.62 },
          },
        },
        scales: {
          x: {
            type: 'category',
            grid: {
              color: (c: any) => (c.index % 10 === 0 ? GRID : 'rgba(0,0,0,0)'),
              lineWidth: 1,
              drawTicks: false,
            },
            border: { display: false },
            ticks: {
              autoSkip: false,
              maxRotation: 0,
              color: TEXT,
              padding: 5,
              font: { family: FONT, size: 11.6 },
              callback: (_v: any, i: number) => (xTickLabels.includes(times[i]) ? times[i] : ''),
            },
            afterFit: (s: any) => {
              s.height = p.height - p.plot.b;
            },
          },
          y: {
            min: p.yMin,
            max: p.yMax,
            grid: { color: GRID, lineWidth: 1, drawTicks: false },
            border: { display: false },
            ticks: {
              color: TEXT,
              padding: 5,
              font: { family: FONT, size: 11.6 },
              callback: (v: any) => (Number(v) < 0 ? '\u2212' + Math.abs(Number(v)) : String(v)),
            },
            afterBuildTicks: (s: any) => {
              s.ticks = p.yTicks.map((v) => ({ value: v }));
            },
            afterFit: (s: any) => {
              s.width = p.plot.l;
            },
          },
        },
      } as any,
      plugins: [framePlugin],
    });

    return () => {
      chart.destroy();
    };
  }, []);

  return (
    <canvas
      ref={canvasRef}
      width={p.width}
      height={p.height}
      style={{ position: 'absolute', left: p.left, top: p.top, width: p.width, height: p.height }}
    />
  );
};

const App: React.FC = () => {
  useEffect(() => {
    document.body.style.background = BG;
  }, []);

  return (
    <div style={{ position: 'fixed', left: 0, top: 0, width: 871, height: 701, background: BG, overflow: 'hidden' }}>
      <Panel
        title="Cluster 1: Paling macet 17:45"
        color="#9c8b8c"
        high={c1High}
        low={c1Low}
        lines={[c1A, c1B, c1C, c1D, c1E, c1F, c1G, c1H, c1I, c1J, c1K, c1L, c1M, c1N, c1O, c1P]}
        yMin={-3.02}
        yMax={3.42}
        yTicks={c1Ticks}
        left={0}
        top={0}
        width={435}
        height={350}
        plot={{ l: 27.3, r: 408.3, t: 24.3, b: 319.3 }}
      />
      <Panel
        title="Cluster 2: Mending pulang ntaran"
        color="#f4a6a3"
        high={c2High}
        low={c2Low}
        lines={[c2A, c2B, c2C, c2D, c2E, c2F, c2G, c2H, c2I, c2J, c2K, c2L, c2M, c2N, c2O, c2P]}
        yMin={-3.22}
        yMax={4.62}
        yTicks={c2Ticks}
        left={435}
        top={0}
        width={436}
        height={350}
        plot={{ l: 49.3, r: 429.3, t: 24.3, b: 320 }}
      />
      <Panel
        title="Cluster 3: Pulang jam 4 atau jam 7 sekalian"
        color="#ee7288"
        high={c3High}
        low={c3Low}
        lines={[c3A, c3B, c3C, c3D, c3E, c3F, c3G, c3H, c3I, c3J, c3K, c3L, c3M, c3N, c3O, c3P]}
        yMin={-3.44}
        yMax={4.44}
        yTicks={c3Ticks}
        left={0}
        top={356}
        width={435}
        height={345}
        plot={{ l: 27.3, r: 408.3, t: 24, b: 320 }}
      />
      <Panel
        title="Cluster 4: Mending pulang lebih awal"
        color="#7b5b8b"
        high={c4High}
        low={c4Low}
        lines={[c4A, c4B, c4C, c4D, c4E, c4F, c4G, c4H, c4I, c4J, c4K, c4L, c4M, c4N]}
        yMin={-3.08}
        yMax={2.44}
        yTicks={c4Ticks}
        left={435}
        top={356}
        width={436}
        height={345}
        plot={{ l: 49.3, r: 429.3, t: 24.7, b: 320 }}
      />
    </div>
  );
};

export default App;
